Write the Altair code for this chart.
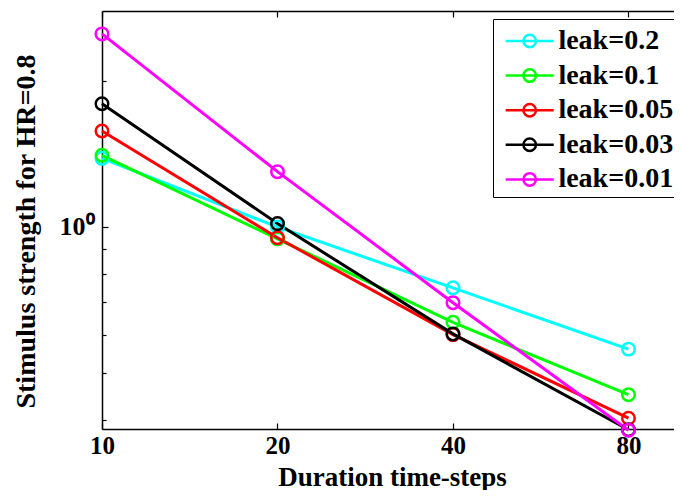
import altair as alt
import pandas as pd

# ---- data ----
durations = [10, 20, 40, 80]
series_names = ["leak=0.2", "leak=0.1", "leak=0.05", "leak=0.03", "leak=0.01"]
series_colors = ["#00FFFF", "#00FF00", "#FF0000", "#000000", "#FF00FF"]
leak_0_2 = [1.385, 1.00, 0.749, 0.560]
leak_0_1 = [1.405, 0.945, 0.636, 0.451]
leak_0_05 = [1.577, 0.950, 0.600, 0.4035]
leak_0_03 = [1.795, 1.016, 0.602, 0.382]
leak_0_01 = [2.50, 1.30, 0.698, 0.381]
x_ticks = [10, 20, 40, 80]
y_minor_ticks = [0.4, 0.5, 0.6, 0.7, 0.8, 0.9, 2]
y_major_ticks = [1]

all_vals = [leak_0_2, leak_0_1, leak_0_05, leak_0_03, leak_0_01]
rows = []
for name, vals in zip(series_names, all_vals):
    for d, v in zip(durations, vals):
        rows.append({"duration": d, "strength": v, "series": name})
df = pd.DataFrame(rows)

FONT = "Liberation Serif"
W, H = 572, 418
xdom = [10, 95.75]
ydom = [0.3833, 2.787]

def xs(axis):
    return alt.X("duration:Q", scale=alt.Scale(type="log", domain=xdom, nice=False, zero=False), axis=axis)

def ys(axis):
    return alt.Y("strength:Q", scale=alt.Scale(type="log", domain=ydom, nice=False, zero=False), axis=axis)

legend_path = "M-1.39,0H1.39M-0.36,0A0.36,0.36,0,1,0,0.36,0A0.36,0.36,0,1,0,-0.36,0"

color = alt.Color(
    "series:N",
    scale=alt.Scale(domain=series_names, range=series_colors),
    sort=series_names,
    legend=alt.Legend(
        title=None, orient="none", legendX=391, legendY=8, padding=3,
        symbolType=legend_path, symbolSize=1197, symbolStrokeWidth=2.5,
        symbolOffset=14.7, labelOffset=9.7, rowPadding=1.6,
        symbolFillColor="transparent",
        labelFont=FONT, labelFontWeight="bold", labelFontSize=28, labelColor="black",
        labelLimit=0, strokeColor="black", fillColor="white",
    ),
)

base = alt.Chart(df)

lines = base.mark_line(strokeWidth=3).encode(
    x=xs(alt.Axis(
        orient="bottom", values=x_ticks, ticks=False, grid=False, domain=True,
        domainColor="black", domainWidth=1.5, labelFlush=False, labelOverlap=False,
        labelFont=FONT, labelFontWeight="bold", labelFontSize=25, labelColor="black",
        labelPadding=4, title="Duration time-steps", titleFont=FONT, titleFontWeight="bold",
        titleFontSize=27, titleColor="black", titleX=290, titleY=56, titleBaseline="alphabetic",
    )),
    y=ys(alt.Axis(
        orient="left", values=y_major_ticks, labelExpr="'10⁰'", ticks=False, grid=False,
        domain=True, domainColor="black", domainWidth=1.5, labelFlush=False, labelOverlap=False,
        labelFont=FONT, labelFontWeight="bold", labelFontSize=26, labelColor="black",
        labelPadding=8, title="Stimulus strength for HR=0.8", titleFont=FONT,
        titleFontWeight="bold", titleFontSize=28, titleColor="black", titleX=-68, titleY=220,
        titleBaseline="alphabetic", titleAngle=270,
    )),
    color=color,
)

points = base.mark_point(filled=False, size=156, strokeWidth=2.5, opacity=1).encode(
    x=xs(alt.Axis(
        orient="top", offset=-H, values=x_ticks, labels=False, ticks=True, tickSize=6,
        tickColor="black", tickWidth=1.2, domain=False, grid=False, title=None,
    )),
    y=ys(alt.Axis(
        orient="right", offset=-W, values=y_minor_ticks, labels=False, ticks=True, tickSize=4,
        tickColor="black", tickWidth=1.2, domain=False, grid=False, title=None,
    )),
    color=color,
)

frame = base.mark_point(opacity=0).encode(
    x=xs(alt.Axis(
        orient="bottom", offset=-H, values=x_ticks, labels=False, ticks=True, tickSize=6,
        tickColor="black", tickWidth=1.2, domain=True, domainColor="black", domainWidth=1.5,
        grid=False, title=None,
    )),
    y=ys(alt.Axis(
        orient="right", offset=-W, values=y_major_ticks, labels=False, ticks=True, tickSize=6,
        tickColor="black", tickWidth=1.2, domain=False, grid=False, title=None,
    )),
)

chart = (
    alt.layer(lines, points, frame)
    .resolve_scale(x="independent", y="independent")
    .resolve_axis(x="independent", y="independent")
    .properties(
        width=W, height=H,
        autosize=alt.AutoSizeParams(type="none"),
        padding={"left": 94, "top": 3, "right": 0, "bottom": 61},
        background="white",
    )
    .configure_view(stroke=None)
)

chart.save("out.html", embed_options={"renderer": "svg", "actions": False})
